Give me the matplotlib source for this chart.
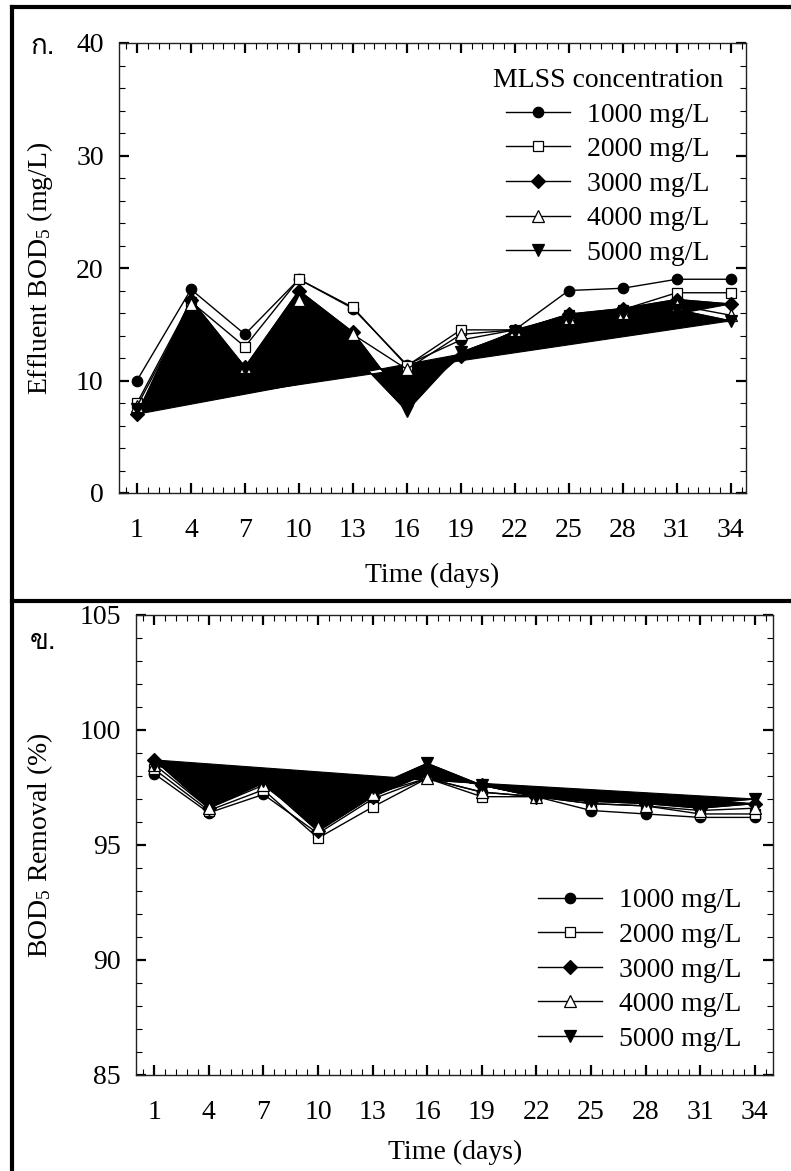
import matplotlib
matplotlib.use('Agg')
import matplotlib.pyplot as plt
import numpy as np
from matplotlib import font_manager
from matplotlib.lines import Line2D
from matplotlib.ticker import MultipleLocator, FixedLocator

# Dados
dias = [1, 4, 7, 10, 13, 16, 19, 22, 25, 28, 31, 34]
series = ['1000 mg/L', '2000 mg/L', '3000 mg/L', '4000 mg/L', '5000 mg/L']

bod_1000 = [10.0, 18.1, 14.1, 19.0, 16.4, 11.4, 13.6, 14.5, 18.0, 18.2, 19.0, 19.0]
bod_2000 = [8.0, 17.0, 13.0, 19.0, 16.5, 11.3, 14.5, 14.5, 15.8, 16.3, 17.8, 17.8]
bod_3000 = [7.0, 17.2, 11.2, 18.0, 14.3, 8.0, 12.2, 14.4, 15.9, 16.4, 17.2, 16.8]
bod_4000 = [7.7, 16.8, 11.2, 17.2, 14.1, 11.0, 14.1, 14.5, 15.6, 16.0, 16.7, 15.8]
bod_5000 = [7.5, 11.3, 11.0, 15.0, 12.3, 7.3, 12.5, 14.3, 15.5, 16.0, 16.3, 15.3]

rem_1000 = [98.1, 96.4, 97.2, 95.5, 97.0, 97.9, 97.3, 97.1, 96.5, 96.35, 96.2, 96.2]
rem_2000 = [98.3, 96.5, 97.4, 95.3, 96.65, 97.9, 97.1, 97.1, 96.8, 96.7, 96.35, 96.35]
rem_3000 = [98.7, 96.6, 97.7, 95.6, 97.1, 98.1, 97.6, 97.1, 96.9, 96.8, 96.6, 96.8]
rem_4000 = [98.5, 96.6, 97.6, 95.8, 97.2, 97.9, 97.3, 97.1, 96.8, 96.7, 96.5, 96.6]
rem_5000 = [98.5, 97.7, 97.8, 96.3, 97.5, 98.55, 97.6, 97.1, 96.9, 96.9, 96.8, 97.0]

# estilo de cada série: marcador, cor de preenchimento, tamanho
marcadores = ['o', 's', 'D', '^', 'v']
faces = ['black', 'white', 'black', 'white', 'black']
tamanhos = [7.5, 7.5, 7, 8, 8]
preenchidas = [2, 4]  # séries desenhadas como área preta

FS = 20
plt.rcParams['font.family'] = ['Liberation Serif', 'DejaVu Serif']
plt.rcParams['mathtext.fontset'] = 'custom'
plt.rcParams['mathtext.rm'] = 'Liberation Serif'
plt.rcParams['mathtext.it'] = 'Liberation Serif:italic'


def fonte_thai():
    try:
        from fontTools.ttLib import TTFont
    except Exception:
        return None
    for f in font_manager.fontManager.ttflist:
        try:
            tt = TTFont(f.fname, fontNumber=0, lazy=True)
            cmap = tt.getBestCmap()
            if cmap and 0x0E01 in cmap and 0x0E02 in cmap:
                return f.name
        except Exception:
            pass
    return None


thai = fonte_thai()
fam_thai = [thai, 'Liberation Serif'] if thai else ['Liberation Serif', 'DejaVu Sans']

W, H = 791, 1171
fig = plt.figure(figsize=(W / 100, H / 100), dpi=100)


def caixa(l, t, r, b):
    return [l / W, 1 - b / H, (r - l) / W, (b - t) / H]


ax1 = fig.add_axes(caixa(119, 43, 746, 493))
ax2 = fig.add_axes(caixa(136, 615, 773, 1075))

dados = [
    (ax1, [bod_1000, bod_2000, bod_3000, bod_4000, bod_5000]),
    (ax2, [rem_1000, rem_2000, rem_3000, rem_4000, rem_5000]),
]

for ax, valores in dados:
    for i in preenchidas:
        ax.fill(dias, valores[i], color='black', lw=0.8, zorder=1)
    for i, v in enumerate(valores):
        ax.plot(dias, v, color='black', lw=1.0, marker=marcadores[i],
                markerfacecolor=faces[i], markeredgecolor='black',
                markeredgewidth=0.9, markersize=tamanhos[i], label=series[i],
                zorder=2)
    ax.xaxis.set_major_locator(FixedLocator(dias))
    ax.xaxis.set_minor_locator(FixedLocator(np.arange(0.4, 35, 0.6)))
    ax.tick_params(which='both', direction='in', top=True, right=True,
                   labelsize=FS, colors='black')
    ax.tick_params(which='major', length=7.5, width=1.6)
    ax.tick_params(which='minor', length=4, width=0.8)
    ax.tick_params(axis='x', which='major', pad=18)
    ax.tick_params(axis='y', which='major', pad=11)
    for s in ax.spines.values():
        s.set_linewidth(1.0)
        s.set_color('#222222')

ax1.set_xlim(0, 34.85)
ax1.set_ylim(0, 40)
ax1.yaxis.set_major_locator(MultipleLocator(10))
ax1.yaxis.set_minor_locator(MultipleLocator(2))

ax2.set_xlim(0, 35)
ax2.set_ylim(85, 105)
ax2.yaxis.set_major_locator(MultipleLocator(5))
ax2.yaxis.set_minor_locator(MultipleLocator(1))

# rótulos dos eixos
fig.text(432 / W, 1 - 575 / H, 'Time (days)', ha='center', va='center', fontsize=FS)
fig.text(455 / W, 1 - 1152 / H, 'Time (days)', ha='center', va='center', fontsize=FS)
fig.text(40 / W, 1 - 268 / H, 'Effluent BOD$_\\mathrm{5}$ (mg/L)', ha='center',
         va='center', rotation=90, fontsize=FS)
fig.text(40 / W, 1 - 845 / H, 'BOD$_\\mathrm{5}$ Removal (%)', ha='center',
         va='center', rotation=90, fontsize=FS)

fig.text(43 / W, 1 - 47 / H, 'ก.', ha='center', va='center', fontsize=FS, family=fam_thai)
fig.text(43 / W, 1 - 642 / H, 'ข.', ha='center', va='center', fontsize=FS, family=fam_thai)

# legendas
leg1 = ax1.legend(title='MLSS concentration', loc='upper center',
                  bbox_to_anchor=(608 / W, 1 - 54 / H), bbox_transform=fig.transFigure,
                  frameon=False, borderpad=0, handlelength=2.3, handletextpad=0.6,
                  labelspacing=0.33, fontsize=FS, title_fontsize=FS)
leg2 = ax2.legend(loc='upper center',
                  bbox_to_anchor=(640 / W, 1 - 874 / H), bbox_transform=fig.transFigure,
                  frameon=False, borderpad=0, handlelength=2.3, handletextpad=0.6,
                  labelspacing=0.33, fontsize=FS)

# moldura preta grossa
for xs, ys in [((12, 12), (7, H)), ((12, W), (7, 7)), ((12, W), (601, 601))]:
    fig.add_artist(Line2D([x / W for x in xs], [1 - y / H for y in ys],
                          transform=fig.transFigure, color='black', lw=3))

plt.savefig('out.png', dpi=100)
plt.close()
